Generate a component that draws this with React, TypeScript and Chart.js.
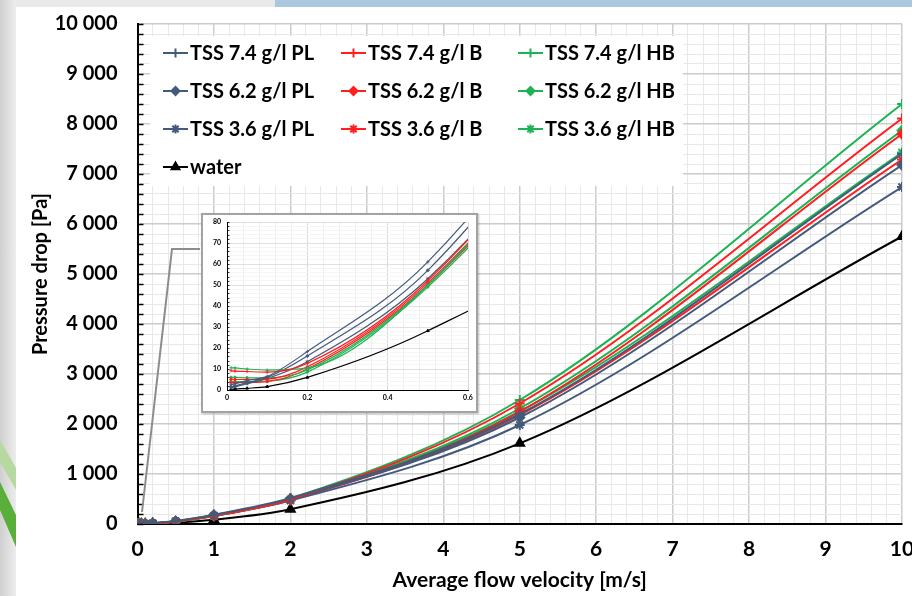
import React, { useEffect, useRef } from "react";
import { Chart, registerables } from "chart.js";
import { drawPoint } from "chart.js/helpers";
Chart.register(...registerables);

// ---- data ----
const velocities = [0.01, 0.02, 0.05, 0.1, 0.2, 0.5, 1, 2, 5, 10];
const seriesNames = [
  "TSS 7.4 g/l PL", "TSS 7.4 g/l B", "TSS 7.4 g/l HB",
  "TSS 6.2 g/l PL", "TSS 6.2 g/l B", "TSS 6.2 g/l HB",
  "TSS 3.6 g/l PL", "TSS 3.6 g/l B", "TSS 3.6 g/l HB",
  "water",
];
const pl74 = [2.5, 3, 4.5, 6.5, 18.3, 61, 185, 520, 2200, 7400];
const b74 = [9.2, 9, 8.8, 8.5, 12.7, 52, 170, 500, 2410, 8110];
const hb74 = [10.6, 10.5, 10, 9.5, 10.5, 50, 170, 510, 2480, 8400];
const pl62 = [1.5, 2, 3.5, 6, 16.2, 57, 180, 500, 2130, 7180];
const b62 = [5.1, 5, 5, 5.2, 11, 51, 165, 490, 2250, 7800];
const hb62 = [6, 6, 5.8, 5.8, 9.5, 50, 165, 500, 2310, 7870];
const pl36 = [1, 1.5, 3, 5.5, 13.5, 53, 165, 470, 1980, 6740];
const b36 = [3.5, 3.5, 3.6, 4, 10, 50, 160, 480, 2180, 7290];
const hb36 = [4, 4, 4, 4.2, 8.5, 49, 160, 490, 2250, 7430];
const water = [0.3, 0.5, 0.8, 1.6, 6, 28.2, 85, 295, 1613, 5750];

const seriesValues = [pl74, b74, hb74, pl62, b62, hb62, pl36, b36, hb36, water];

const BLUE = "#435a7a";
const RED = "#ff1f1f";
const GREEN = "#1db354";
const seriesColors = [BLUE, RED, GREEN, BLUE, RED, GREEN, BLUE, RED, GREEN, "#000000"];
const seriesMarkers = ["cross", "cross", "cross", "rectRot", "rectRot", "rectRot", "star", "star", "star", "triangle"];

const FONT = "Lato, 'Open Sans', sans-serif";
const isMult = (v: number, s: number) => Math.abs(v / s - Math.round(v / s)) < 1e-6;
const fmtThousands = (v: number) => String(Math.round(v)).replace(/\B(?=(\d{3})+(?!\d))/g, " ");

function makeDatasets(small: boolean) {
  return seriesValues.map((vals, i) => ({
    label: seriesNames[i],
    data: velocities.map((x, j) => ({ x, y: vals[j] })),
    borderColor: seriesColors[i],
    backgroundColor: seriesColors[i],
    borderWidth: small ? 1.2 : 2,
    pointStyle: seriesMarkers[i],
    pointRadius: small ? 1.6 : seriesMarkers[i] === "rectRot" ? 4.5 : 5,
    pointBorderWidth: small ? 1 : 2,
    pointBackgroundColor: seriesColors[i],
    pointBorderColor: seriesColors[i],
    cubicInterpolationMode: "monotone" as const,
    tension: 0.4,
  }));
}

const innerTicks = (len: number, width: number) => ({
  id: "innerTicks",
  afterDraw(chart: any) {
    const { ctx, chartArea } = chart;
    const ys = chart.scales.y;
    ctx.save();
    ctx.strokeStyle = "#000";
    ctx.lineWidth = width;
    ys.ticks.forEach((t: any) => {
      const py = Math.round(ys.getPixelForValue(t.value)) + 0.5;
      ctx.beginPath();
      ctx.moveTo(chartArea.left, py);
      ctx.lineTo(chartArea.left + len, py);
      ctx.stroke();
    });
    ctx.restore();
  },
});

const boxLegend = {
  id: "boxLegend",
  afterDatasetsDraw(chart: any) {
    const ctx = chart.ctx;
    ctx.save();
    ctx.fillStyle = "#ffffff";
    ctx.fillRect(150, 36, 533, 150);
    const colX = [163, 341, 518];
    const rowY = [53, 91, 129, 167];
    chart.data.datasets.forEach((ds: any, i: number) => {
      const x = colX[i % 3];
      const y = rowY[Math.floor(i / 3)];
      ctx.strokeStyle = ds.borderColor;
      ctx.fillStyle = ds.borderColor;
      ctx.lineWidth = 2;
      ctx.beginPath();
      ctx.moveTo(x, y);
      ctx.lineTo(x + 25, y);
      ctx.stroke();
      drawPoint(ctx, { pointStyle: ds.pointStyle, radius: ds.pointStyle === "rectRot" ? 4 : 4.5, borderWidth: 1.5, rotation: 0 } as any, x + 12.5, y);
      ctx.fillStyle = "#000";
      ctx.font = `bold 20px ${FONT}`;
      ctx.textBaseline = "middle";
      ctx.textAlign = "left";
      ctx.fillText(ds.label, x + 27, y + 1);
    });
    ctx.restore();
  },
};

const zeroPad = (s: any) => {
  s.paddingLeft = 0;
  s.paddingRight = 0;
  s.paddingTop = 0;
  s.paddingBottom = 0;
};

function MainChart() {
  const ref = useRef<HTMLCanvasElement>(null);
  useEffect(() => {
    const chart = new Chart(ref.current!, {
      type: "line",
      data: { datasets: makeDatasets(false) as any },
      options: {
        animation: false,
        responsive: false,
        maintainAspectRatio: false,
        layout: { padding: { top: 24, right: 10, left: 0, bottom: 0 } },
        plugins: { legend: { display: false }, tooltip: { enabled: false } },
        scales: {
          x: {
            type: "linear",
            min: 0,
            max: 10,
            ticks: {
              stepSize: 0.2,
              autoSkip: false,
              maxRotation: 0,
              padding: 13,
              color: "#000",
              font: { family: FONT, weight: "bold", size: 21 },
              callback: (v: any) => (isMult(v, 1) ? String(Math.round(v)) : ""),
            },
            grid: {
              drawTicks: false,
              color: (c: any) => (isMult(c.tick.value, 1) ? "#cccccc" : "#e8e8e8"),
              lineWidth: (c: any) => (isMult(c.tick.value, 1) ? 1.5 : 1),
            },
            border: { color: "#000", width: 2 },
            title: {
              display: true,
              text: "Average flow velocity [m/s]",
              color: "#000",
              font: { family: FONT, weight: "bold", size: 21 },
              padding: { top: 0, bottom: 3 },
            },
            afterFit: (s: any) => {
              s.height = 72;
              zeroPad(s);
            },
          },
          y: {
            type: "linear",
            min: 0,
            max: 10000,
            ticks: {
              stepSize: 200,
              autoSkip: false,
              padding: 20,
              color: "#000",
              font: { family: FONT, weight: "bold", size: 20 },
              callback: (v: any) => (isMult(v, 1000) ? fmtThousands(v) : ""),
            },
            grid: {
              drawTicks: false,
              color: (c: any) => (isMult(c.tick.value, 1000) ? "#cccccc" : "#e8e8e8"),
              lineWidth: (c: any) => (isMult(c.tick.value, 1000) ? 1.5 : 1),
            },
            border: { color: "#000", width: 2 },
            title: {
              display: true,
              text: "Pressure drop [Pa]",
              color: "#000",
              font: { family: FONT, weight: "bold", size: 20 },
              padding: { top: 29, bottom: 0 },
            },
            afterFit: (s: any) => {
              s.width = 137.5;
              zeroPad(s);
            },
          },
        },
      } as any,
      plugins: [innerTicks(6, 1.5), boxLegend],
    });
    return () => chart.destroy();
  }, []);
  return <canvas ref={ref} width={912} height={596} style={{ position: "absolute", left: 0, top: 0 }} />;
}

function InsetChart() {
  const ref = useRef<HTMLCanvasElement>(null);
  useEffect(() => {
    const chart = new Chart(ref.current!, {
      type: "line",
      data: { datasets: makeDatasets(true) as any },
      options: {
        animation: false,
        responsive: false,
        maintainAspectRatio: false,
        layout: { padding: { top: 7, right: 8, left: 0, bottom: 0 } },
        plugins: { legend: { display: false }, tooltip: { enabled: false } },
        scales: {
          x: {
            type: "linear",
            min: 0,
            max: 0.6,
            ticks: {
              stepSize: 0.04,
              autoSkip: false,
              maxRotation: 0,
              padding: 4,
              color: "#000",
              font: { family: FONT, weight: "bold", size: 7 },
              callback: (v: any) => (isMult(v, 0.2) ? String(Math.round(v * 10) / 10) : ""),
            },
            grid: {
              drawTicks: false,
              color: (c: any) => (isMult(c.tick.value, 0.2) ? "#d8d8d8" : "#efefef"),
            },
            border: { color: "#000", width: 1 },
            afterFit: (s: any) => {
              s.height = 21;
              zeroPad(s);
            },
          },
          y: {
            type: "linear",
            min: 0,
            max: 80,
            ticks: {
              stepSize: 2,
              autoSkip: false,
              padding: 6,
              color: "#000",
              font: { family: FONT, weight: "bold", size: 7 },
              callback: (v: any) => (isMult(v, 10) ? String(Math.round(v)) : ""),
            },
            grid: {
              drawTicks: false,
              color: (c: any) => (isMult(c.tick.value, 10) ? "#e0e0e0" : "#f5f5f5"),
            },
            border: { color: "#000", width: 1 },
            afterFit: (s: any) => {
              s.width = 24;
              zeroPad(s);
            },
          },
        },
      } as any,
      plugins: [innerTicks(2.5, 0.8)],
    });
    return () => chart.destroy();
  }, []);
  return <canvas ref={ref} width={273} height={196} />;
}

export default function App() {
  return (
    <div style={{ position: "fixed", left: 0, top: 0, width: 912, height: 596, overflow: "hidden" }}>
      <svg width={912} height={596} style={{ position: "absolute", left: 0, top: 0 }}>
        <defs>
          <linearGradient id="strip" x1="0" x2="1" y1="0" y2="0">
            <stop offset="0" stopColor="#cfcfcf" />
            <stop offset="1" stopColor="#ededed" />
          </linearGradient>
        </defs>
        <rect x={0} y={0} width={912} height={596} fill="#e9e9e9" />
        <rect x={0} y={0} width={16} height={596} fill="url(#strip)" />
        <rect x={275} y={0} width={637} height={7} fill="#a9c7dd" />
        <polygon points="0,440 16,468 16,490 0,462" fill="#b5d9a0" />
        <polygon points="0,482 16,515 16,547 0,510" fill="#5aae3a" />
        <rect x={16} y={7} width={896} height={589} fill="#ffffff" />
      </svg>
      <MainChart />
      <svg width={912} height={596} style={{ position: "absolute", left: 0, top: 0, pointerEvents: "none" }}>
        <polyline points="200,249 172,249 142,512" fill="none" stroke="#8c8c8c" strokeWidth={2} />
      </svg>
      <div
        style={{
          position: "absolute",
          left: 201,
          top: 213,
          width: 273,
          height: 196,
          border: "2px solid #a3a3a3",
          background: "#fff",
          boxShadow: "1px 1px 2px rgba(0,0,0,0.25)",
        }}
      >
        <InsetChart />
      </div>
    </div>
  );
}
